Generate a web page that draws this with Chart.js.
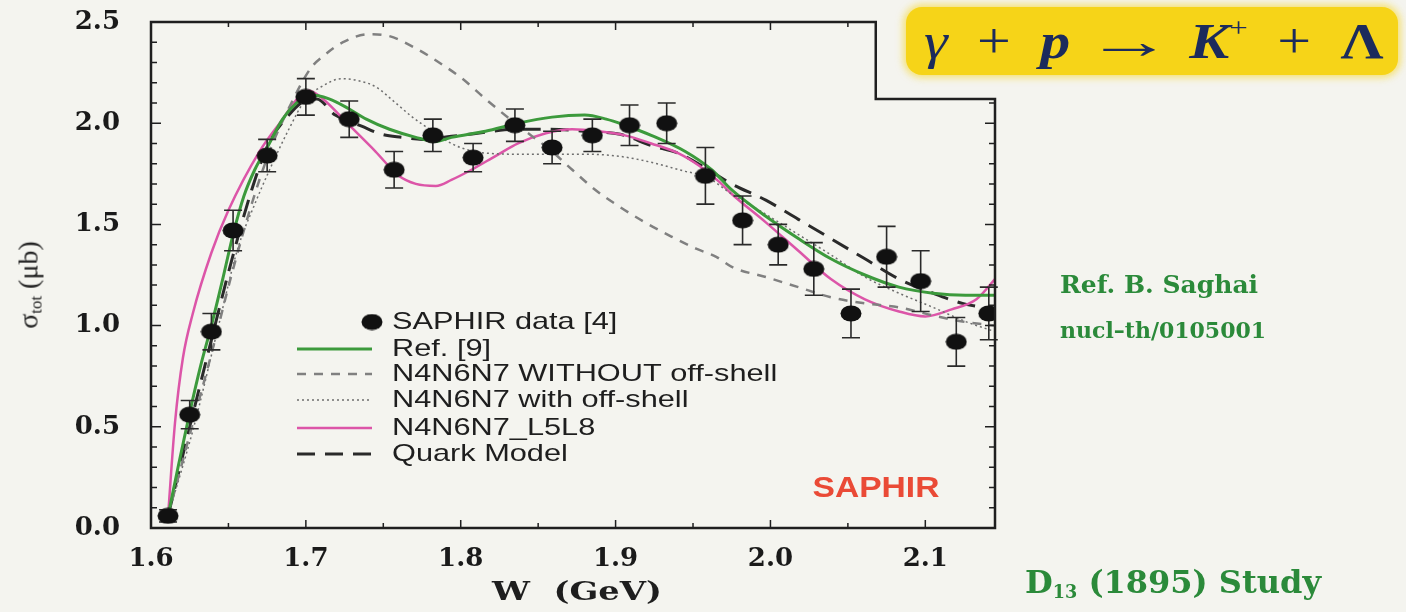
<!DOCTYPE html>
<html>
<head>
<meta charset="utf-8">
<script src="https://cdn.jsdelivr.net/npm/chart.js@4.4.0/dist/chart.umd.min.js"></script>
<style>
  html, body { margin: 0; padding: 0; background: #f4f4ef; }
  #wrap { position: relative; width: 1406px; height: 612px; overflow: hidden; background: #f4f4ef; }
  #c { position: absolute; left: 0; top: 0; }
  .txt { position: absolute; white-space: nowrap; line-height: 1; }

  #hl { position: absolute; left: 906px; top: 7px; width: 492px; height: 68px;
        background: #f6d418; border-radius: 16px; box-shadow: 0 0 7px 3px rgba(246, 212, 24, 0.55); }
  #reaction { left: 924px; top: 16px; width: 383px; display: flex; justify-content: space-between; align-items: baseline;
              font-family: "Liberation Serif", serif; font-size: 50px; color: #1c2b5c;
              transform: scaleX(1.2); transform-origin: left center; }
  #reaction sup { font-size: 55%; vertical-align: 0.75em; line-height: 0; }
  #reaction .arrow { display: inline-block; transform: scaleX(1.45); }

  #ytitle { left: 30px; top: 285px; font-family: "Liberation Serif", serif; font-size: 28px; color: #222;
            transform: translate(-50%, -50%) rotate(-90deg); }
  #ytitle sub { font-size: 60%; vertical-align: -0.25em; }
  #xtitle { left: 577px; top: 591px; font-family: "DejaVu Serif", serif; font-weight: bold; font-size: 26px; color: #1e1e1e;
            transform: translate(-50%, -50%) scaleX(1.3); }
  #saphir { left: 876px; top: 487px; font-family: "Liberation Sans", Arial, sans-serif; font-weight: bold; font-size: 30px;
            color: #ea4a36; transform: translate(-50%, -50%) scaleX(1.12); }

  .green { color: #2b8a3a; font-family: "DejaVu Serif", serif; font-weight: bold; }
  #ref { left: 1060px; top: 272px; font-size: 25px; }
  #arxiv { left: 1060px; top: 319px; font-size: 22px; }
  #study { left: 1025px; top: 566px; font-size: 32px; }
  #study sub { font-size: 55%; vertical-align: -0.3em; }
</style>
</head>
<body>
<div id="wrap">
  <canvas id="c" width="1406" height="612"></canvas>
  <div id="hl"></div>
  <div id="reaction" class="txt"><i>γ</i><span>+</span><b><i>p</i></b><span class="arrow">→</span><span><b><i>K</i></b><sup>+</sup></span><span>+</span><b>Λ</b></div>
  <div id="ytitle" class="txt">σ<sub>tot</sub> (μb)</div>
  <div id="xtitle" class="txt">W&nbsp;&nbsp;(GeV)</div>
  <div id="saphir" class="txt">SAPHIR</div>
  <div id="ref" class="txt green">Ref. B. Saghai</div>
  <div id="arxiv" class="txt green">nucl–th/0105001</div>
  <div id="study" class="txt green">D<sub>13</sub> (1895) Study</div>
</div>

<script>
// SAPHIR total cross section, W in GeV, sigma in microbarn
var saphirW     = [1.611, 1.625, 1.639, 1.653, 1.675, 1.700, 1.728, 1.757, 1.782, 1.808, 1.835, 1.859,
                   1.885, 1.909, 1.933, 1.958, 1.982, 2.005, 2.028, 2.052, 2.075, 2.097, 2.120, 2.141];
var saphirSigma = [0.06, 0.56, 0.97, 1.47, 1.84, 2.13, 2.02, 1.77, 1.94, 1.83, 1.99, 1.88,
                   1.94, 1.99, 2.00, 1.74, 1.52, 1.40, 1.28, 1.06, 1.34, 1.22, 0.92, 1.06];
var saphirErr   = [0.03, 0.07, 0.09, 0.10, 0.08, 0.09, 0.09, 0.09, 0.08, 0.07, 0.08, 0.08,
                   0.08, 0.10, 0.10, 0.14, 0.12, 0.10, 0.13, 0.12, 0.15, 0.15, 0.12, 0.13];

// Ref. [9]
var ref9W     = [1.611, 1.618, 1.625, 1.632, 1.639, 1.646, 1.653, 1.660, 1.667, 1.675, 1.685, 1.694, 1.702,
                 1.715, 1.728, 1.739, 1.754, 1.771, 1.784, 1.794, 1.816, 1.837, 1.859, 1.880, 1.894, 1.906,
                 1.923, 1.945, 1.962, 1.975, 1.997, 2.018, 2.039, 2.061, 2.083, 2.105, 2.126, 2.145];
var ref9Sigma = [0.06, 0.32, 0.57, 0.80, 1.00, 1.22, 1.45, 1.64, 1.77, 1.88, 2.02, 2.10, 2.14,
                 2.12, 2.07, 2.02, 1.97, 1.93, 1.91, 1.93, 1.96, 2.00, 2.03, 2.04, 2.02, 1.99,
                 1.94, 1.86, 1.77, 1.67, 1.54, 1.43, 1.33, 1.25, 1.19, 1.16, 1.15, 1.15];

// N4N6N7 without off-shell terms
var noOffW     = [1.611, 1.626, 1.639, 1.652, 1.665, 1.677, 1.690, 1.703, 1.711, 1.724, 1.741, 1.754, 1.771,
                  1.786, 1.801, 1.816, 1.835, 1.859, 1.872, 1.887, 1.902, 1.919, 1.936, 1.952, 1.965, 1.975,
                  1.997, 2.018, 2.039, 2.061, 2.083, 2.105, 2.124, 2.145];
var noOffSigma = [0.06, 0.49, 0.86, 1.25, 1.60, 1.87, 2.09, 2.27, 2.33, 2.40, 2.44, 2.43, 2.37,
                  2.30, 2.22, 2.12, 2.00, 1.86, 1.77, 1.67, 1.59, 1.51, 1.44, 1.38, 1.34, 1.29,
                  1.24, 1.19, 1.14, 1.11, 1.09, 1.05, 1.02, 1.00];

// N4N6N7 with off-shell terms
var offW     = [1.611, 1.628, 1.643, 1.656, 1.667, 1.676, 1.689, 1.700, 1.710, 1.723, 1.734, 1.745, 1.758,
                1.768, 1.777, 1.794, 1.806, 1.820, 1.837, 1.859, 1.881, 1.902, 1.923, 1.945, 1.958, 1.975,
                1.997, 2.018, 2.039, 2.061, 2.083, 2.105, 2.126, 2.145];
var offSigma = [0.06, 0.51, 0.98, 1.38, 1.60, 1.76, 1.97, 2.12, 2.18, 2.22, 2.21, 2.18, 2.10,
                2.035, 1.985, 1.90, 1.865, 1.85, 1.847, 1.847, 1.847, 1.837, 1.807, 1.762, 1.738, 1.65,
                1.55, 1.45, 1.35, 1.24, 1.16, 1.09, 1.02, 0.97];

// N4N6N7_L5L8
var l5l8W     = [1.611, 1.6155, 1.6206, 1.627, 1.639, 1.650, 1.670, 1.685, 1.6955, 1.702, 1.711, 1.728, 1.745,
                 1.760, 1.771, 1.784, 1.794, 1.807, 1.823, 1.837, 1.855, 1.872, 1.889, 1.906, 1.923, 1.941,
                 1.954, 1.967, 1.975, 1.997, 2.018, 2.039, 2.061, 2.083, 2.100, 2.117, 2.133, 2.145];
var l5l8Sigma = [0.06, 0.52, 0.84, 1.06, 1.36, 1.57, 1.86, 2.02, 2.13, 2.16, 2.12, 1.99, 1.86,
                 1.74, 1.70, 1.69, 1.72, 1.77, 1.84, 1.90, 1.95, 1.97, 1.96, 1.94, 1.90, 1.85,
                 1.79, 1.71, 1.65, 1.51, 1.37, 1.23, 1.13, 1.07, 1.045, 1.08, 1.13, 1.23];

// Quark model
var quarkW     = [1.611, 1.626, 1.639, 1.652, 1.665, 1.676, 1.689, 1.699, 1.707, 1.719, 1.736, 1.749, 1.762,
                  1.775, 1.794, 1.816, 1.833, 1.855, 1.881, 1.903, 1.923, 1.941, 1.962, 1.975, 1.997, 2.018,
                  2.039, 2.061, 2.083, 2.105, 2.124, 2.145];
var quarkSigma = [0.06, 0.53, 0.93, 1.32, 1.67, 1.90, 2.04, 2.11, 2.12, 2.04, 1.985, 1.945, 1.93,
                  1.92, 1.935, 1.955, 1.97, 1.97, 1.96, 1.945, 1.89, 1.85, 1.76, 1.70, 1.62, 1.525,
                  1.43, 1.33, 1.23, 1.16, 1.11, 1.08];

var xTickLabels = ['1.6', '1.7', '1.8', '1.9', '2.0', '2.1'];
var yTickLabels = ['0.0', '0.5', '1.0', '1.5', '2.0', '2.5'];

// corner cut out of the frame under the reaction title
var NOTCH_W = 2.068, NOTCH_S = 2.12;

function pairs(xs, ys) {
  return xs.map(function (x, i) { return { x: x, y: ys[i] }; });
}

// filled ellipse used as the data marker
var marker = document.createElement('canvas');
marker.width = 22; marker.height = 17;
(function () {
  var m = marker.getContext('2d');
  m.fillStyle = '#111';
  m.beginPath();
  m.ellipse(11, 8.5, 10.5, 8, 0, 0, Math.PI * 2);
  m.fill();
})();

var curve = function (label, xs, ys, color, width, dash) {
  return {
    label: label, data: pairs(xs, ys), borderColor: color, backgroundColor: color,
    borderWidth: width, borderDash: dash, pointRadius: 0, fill: false,
    cubicInterpolationMode: 'monotone'
  };
};

var errorBars = {
  id: 'errorBars',
  beforeDatasetDraw: function (chart, args) {
    if (args.index !== 0) return;
    var ctx = chart.ctx, x = chart.scales.x, y = chart.scales.y;
    ctx.save();
    ctx.strokeStyle = '#2a2a2a';
    ctx.lineWidth = 1.6;
    saphirW.forEach(function (w, i) {
      var px = x.getPixelForValue(w);
      var top = y.getPixelForValue(saphirSigma[i] + saphirErr[i]);
      var bot = y.getPixelForValue(saphirSigma[i] - saphirErr[i]);
      ctx.beginPath();
      ctx.moveTo(px, top); ctx.lineTo(px, bot);
      ctx.moveTo(px - 9, top); ctx.lineTo(px + 9, top);
      ctx.moveTo(px - 9, bot); ctx.lineTo(px + 9, bot);
      ctx.stroke();
    });
    ctx.restore();
  }
};

// box with inward ticks on all four sides
var frame = {
  id: 'frame',
  afterDatasetsDraw: function (chart) {
    var ctx = chart.ctx, a = chart.chartArea, x = chart.scales.x, y = chart.scales.y;
    var nx = x.getPixelForValue(NOTCH_W), ny = y.getPixelForValue(NOTCH_S);
    ctx.save();
    ctx.strokeStyle = '#1f1f1f';
    ctx.lineWidth = 1.5;
    ctx.beginPath();
    for (var i = 0; i <= 10; i++) {
      var w = 1.6 + i * 0.05, px = x.getPixelForValue(w), len = i % 2 ? 5 : 8;
      ctx.moveTo(px, a.bottom); ctx.lineTo(px, a.bottom - len);
      if (w <= NOTCH_W) { ctx.moveTo(px, a.top); ctx.lineTo(px, a.top + len); }
    }
    for (var j = 0; j <= 25; j++) {
      var s = j * 0.1, py = y.getPixelForValue(s), l = j % 5 ? 6 : 10;
      ctx.moveTo(a.left, py); ctx.lineTo(a.left + l, py);
      if (s <= NOTCH_S) { ctx.moveTo(a.right, py); ctx.lineTo(a.right - l, py); }
    }
    ctx.stroke();
    ctx.lineWidth = 2.5;
    ctx.beginPath();
    ctx.moveTo(a.left, a.top);
    ctx.lineTo(nx, a.top);
    ctx.lineTo(nx, ny);
    ctx.lineTo(a.right, ny);
    ctx.lineTo(a.right, a.bottom);
    ctx.lineTo(a.left, a.bottom);
    ctx.closePath();
    ctx.stroke();
    ctx.restore();
  }
};

var insideLegend = {
  id: 'insideLegend',
  afterDatasetsDraw: function (chart) {
    var ctx = chart.ctx, a = chart.chartArea;
    var x0 = a.left + 146, x1 = a.left + 221, tx = a.left + 241;
    var rows = [300, 327, 352, 378, 406, 432];
    ctx.save();
    ctx.font = '24px "Liberation Sans", Arial, sans-serif';
    ctx.textBaseline = 'middle';
    ctx.fillStyle = '#1e1e1e';
    chart.data.datasets.forEach(function (ds, i) {
      var yy = a.top + rows[i];
      if (ds.showLine === false) {
        ctx.drawImage(marker, x1 - 11, yy - 8.5);
      } else {
        ctx.strokeStyle = ds.borderColor;
        ctx.lineWidth = ds.borderWidth;
        ctx.setLineDash(ds.borderDash || []);
        ctx.beginPath(); ctx.moveTo(x0, yy); ctx.lineTo(x1, yy); ctx.stroke();
        ctx.setLineDash([]);
      }
      ctx.save();
      ctx.translate(tx, yy);
      ctx.scale(1.28, 1);
      ctx.fillText(ds.label, 0, 0);
      ctx.restore();
    });
    ctx.restore();
  }
};

var tickFont = { family: '"DejaVu Serif", serif', weight: 'bold', size: 26 };

new Chart(document.getElementById('c'), {
  type: 'line',
  data: {
    datasets: [
      {
        label: 'SAPHIR data [4]', data: pairs(saphirW, saphirSigma), showLine: false,
        pointStyle: marker, pointRadius: 11, borderColor: '#111', backgroundColor: '#111'
      },
      curve('Ref. [9]', ref9W, ref9Sigma, '#3c9a3c', 3, []),
      curve('N4N6N7 WITHOUT off-shell', noOffW, noOffSigma, '#808080', 2.5, [9, 8]),
      curve('N4N6N7 with off-shell', offW, offSigma, '#6e6e6e', 1.5, [2, 3]),
      curve('N4N6N7_L5L8', l5l8W, l5l8Sigma, '#dc55a8', 2.5, []),
      curve('Quark Model', quarkW, quarkSigma, '#2a2a2a', 3, [18, 10])
    ]
  },
  options: {
    responsive: false,
    devicePixelRatio: 1,
    animation: false,
    layout: { padding: { left: 0, right: 411, top: 22, bottom: 0 } },
    plugins: { legend: { display: false }, tooltip: { enabled: false } },
    scales: {
      x: {
        type: 'linear', min: 1.6, max: 2.145,
        grid: { display: false, drawTicks: false },
        border: { display: false },
        ticks: {
          stepSize: 0.1, includeBounds: false, padding: 16, color: '#1a1a1a', font: tickFont,
          maxRotation: 0, autoSkip: false,
          callback: function (v) {
            var k = Math.round((v - 1.6) / 0.1);
            return Math.abs(v - (1.6 + k * 0.1)) < 1e-6 ? xTickLabels[k] : '';
          }
        },
        afterFit: function (s) { s.height = 84; s.paddingLeft = 0; s.paddingRight = 0; }
      },
      y: {
        type: 'linear', min: 0, max: 2.5,
        grid: { display: false, drawTicks: false },
        border: { display: false },
        ticks: {
          stepSize: 0.5, padding: 31, color: '#1a1a1a', font: tickFont,
          callback: function (v) { return yTickLabels[Math.round(v / 0.5)]; }
        },
        afterFit: function (s) { s.width = 151; s.paddingTop = 0; s.paddingBottom = 0; }
      }
    }
  },
  plugins: [errorBars, frame, insideLegend]
});
</script>
</body>
</html>
